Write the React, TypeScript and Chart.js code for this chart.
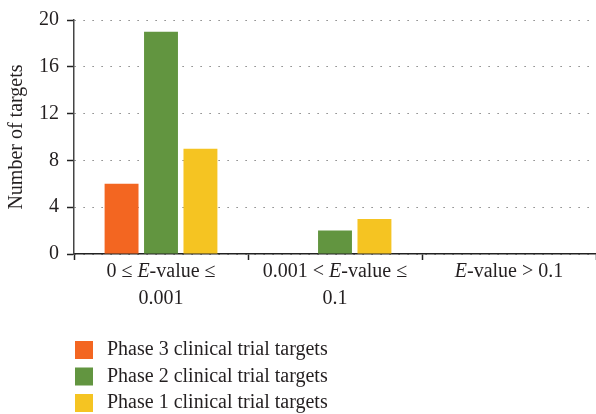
import React, { useEffect, useRef } from "react";
import { Chart, registerables } from "chart.js";

Chart.register(...registerables);

const categories: string[][] = [
  ["0 ≤ E-value ≤", "0.001"],
  ["0.001 < E-value ≤", "0.1"],
  ["E-value > 0.1"],
];
const seriesNames = [
  "Phase 3 clinical trial targets",
  "Phase 2 clinical trial targets",
  "Phase 1 clinical trial targets",
];
const phase3 = [6, 0, 0];
const phase2 = [19, 2, 0];
const phase1 = [9, 3, 0];
const colors = ["#F36621", "#629540", "#F5C422"];
const yTicks = [0, 4, 8, 12, 16, 20];

const FONT = '"Liberation Serif", "DejaVu Serif", serif';
const TEXT = "#231f20";

function drawRich(ctx: CanvasRenderingContext2D, text: string, cx: number, y: number, size: number) {
  // italicize the "E" in "E-value"
  const parts: { t: string; it: boolean }[] = [];
  const idx = text.indexOf("E-value");
  if (idx >= 0) {
    if (idx > 0) parts.push({ t: text.slice(0, idx), it: false });
    parts.push({ t: "E", it: true });
    parts.push({ t: text.slice(idx + 1), it: false });
  } else parts.push({ t: text, it: false });
  let total = 0;
  const widths = parts.map((p) => {
    ctx.font = `${p.it ? "italic " : ""}${size}px ${FONT}`;
    const w = ctx.measureText(p.t).width;
    total += w;
    return w;
  });
  let x = cx - total / 2;
  parts.forEach((p, i) => {
    ctx.font = `${p.it ? "italic " : ""}${size}px ${FONT}`;
    ctx.fillText(p.t, x, y);
    x += widths[i];
  });
}

const customDraw = {
  id: "customDraw",
  afterDraw(chart: any) {
    const ctx = chart.ctx as CanvasRenderingContext2D;
    const xs = chart.scales.x;
    const bottom = chart.chartArea.bottom;
    ctx.save();
    ctx.fillStyle = TEXT;
    ctx.textBaseline = "middle";
    ctx.textAlign = "left";
    categories.forEach((lines, i) => {
      const cx = xs.getPixelForValue(i);
      lines.forEach((ln, j) => {
        drawRich(ctx, ln, cx, bottom + 18 + j * 27, 20);
      });
    });
    // legend
    chart.data.datasets.forEach((ds: any, i: number) => {
      const cy = 350 + i * 26.5;
      ctx.fillStyle = ds.backgroundColor;
      ctx.fillRect(75, cy - 9, 18, 18);
      ctx.fillStyle = TEXT;
      ctx.font = `20px ${FONT}`;
      ctx.fillText(ds.label, 107, cy);
    });
    ctx.restore();
  },
};

export default function App() {
  const ref = useRef<HTMLCanvasElement>(null);
  useEffect(() => {
    document.body.style.margin = "0";
    const chart = new Chart(ref.current!, {
      type: "bar",
      data: {
        labels: categories.map((l) => l.join(" ")),
        datasets: [phase3, phase2, phase1].map((d, i) => ({
          label: seriesNames[i],
          data: d,
          backgroundColor: colors[i],
          categoryPercentage: 0.68,
          barPercentage: 0.86,
        })),
      },
      options: {
        responsive: false,
        animation: false,
        layout: { padding: { top: 20, right: 0, left: 0, bottom: 0 } },
        plugins: { legend: { display: false }, tooltip: { enabled: false } },
        scales: {
          x: {
            offset: true,
            grid: {
              offset: true,
              drawOnChartArea: false,
              drawTicks: true,
              tickLength: 6,
              tickColor: "#222",
              tickWidth: 1.5,
            },
            border: { color: "#222", width: 1.5 },
            ticks: { display: false },
            afterFit: (s: any) => {
              s.height = 160;
            },
          },
          y: {
            min: 0,
            max: 20,
            afterBuildTicks: (s: any) => {
              s.ticks = yTicks.map((v) => ({ value: v }));
            },
            grid: {
              color: "#666",
              lineWidth: 1,
              drawTicks: true,
              tickLength: 7,
              tickColor: "#222",
              tickWidth: 1.5,
              tickBorderDash: [],
            },
            border: { color: "#444", width: 1.5, dash: [1.2, 7.8] },
            ticks: {
              color: TEXT,
              padding: 8,
              font: { family: FONT, size: 20 },
            },
            title: {
              display: true,
              text: "Number of targets",
              color: TEXT,
              font: { family: FONT, size: 20 },
              padding: { top: 5, bottom: 0 },
            },
            afterFit: (s: any) => {
              s.width = 74;
            },
          },
        },
      },
      plugins: [customDraw],
    });
    return () => chart.destroy();
  }, []);
  return (
    <div style={{ position: "absolute", left: 0, top: 0, width: 596, height: 414 }}>
      <canvas ref={ref} width={596} height={414} style={{ width: 596, height: 414 }} />
    </div>
  );
}
